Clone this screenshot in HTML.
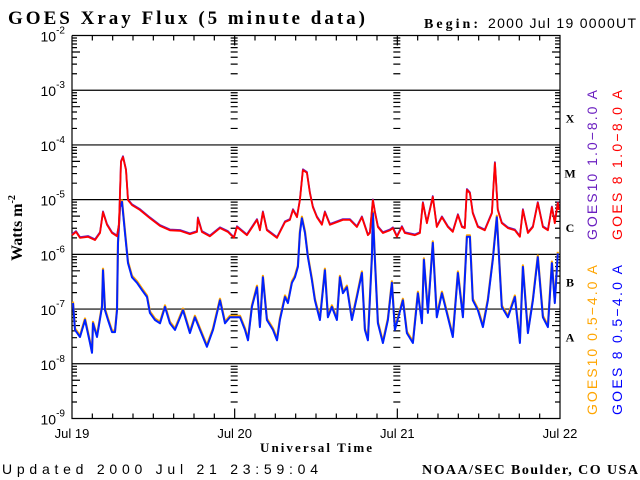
<!DOCTYPE html>
<html><head><meta charset="utf-8"><style>
html,body{margin:0;padding:0;background:#fff;width:640px;height:480px;overflow:hidden}
svg{display:block}
.serif{font-family:"Liberation Serif",serif;font-weight:bold}
.sans{font-family:"Liberation Sans",sans-serif}
</style></head><body>
<svg id="chart" width="640" height="480" viewBox="0 0 640 480" xmlns="http://www.w3.org/2000/svg">
<text class="serif" x="8" y="24" font-size="19" textLength="357" lengthAdjust="spacing">GOES Xray Flux (5 minute data)</text>
<text class="serif" x="424" y="28" font-size="14" textLength="54" lengthAdjust="spacing">Begin:</text>
<text class="sans" x="488" y="28" font-size="14" textLength="148" lengthAdjust="spacing">2000 Jul 19 0000UT</text>
<text class="serif" font-size="16" transform="translate(22,228) rotate(-90)" text-anchor="middle">Watts m<tspan font-size="10" dy="-7">-2</tspan></text>
<text class="serif" x="260" y="452" font-size="13" textLength="112" lengthAdjust="spacing">Universal Time</text>
<text class="sans" x="2" y="474" font-size="14" textLength="316" lengthAdjust="spacing">Updated 2000 Jul 21 23:59:04</text>
<text class="serif" x="422" y="474" font-size="14" textLength="216" lengthAdjust="spacing">NOAA/SEC Boulder, CO USA</text>
<g id="grid"></g>
<g id="series"></g>
<g id="legend" class="sans" font-size="14">
<text fill="#6a1fc0" transform="translate(597,240) rotate(-90)" textLength="150" lengthAdjust="spacing">GOES10 1.0−8.0 A</text>
<text fill="#ff0000" transform="translate(622,240) rotate(-90)" textLength="150" lengthAdjust="spacing">GOES 8 1.0−8.0 A</text>
<text fill="#ffa500" transform="translate(597,415) rotate(-90)" textLength="150" lengthAdjust="spacing">GOES10 0.5−4.0 A</text>
<text fill="#0000ff" transform="translate(622,415) rotate(-90)" textLength="150" lengthAdjust="spacing">GOES 8 0.5−4.0 A</text>
</g>
</svg>
<script>
const dayLabels = ["Jul 19","Jul 20","Jul 21","Jul 22"];
const decadeExps = [-2,-3,-4,-5,-6,-7,-8,-9];
const flareClasses = ["X","M","C","B","A"];
const flareClassExps = [-3.5,-4.5,-5.5,-6.5,-7.5];
const longHours = [0,0.59,1.18,2.36,3.39,4.13,4.57,5.16,5.9,6.64,6.93,7.23,7.52,7.96,8.26,8.85,10.03,11.5,12.98,14.45,15.93,17.4,18.44,18.58,19.17,20.35,21.83,23.0,23.89,24.34,25.81,27.29,27.73,28.17,28.76,30.24,31.42,32.15,32.6,33.19,33.63,34.07,34.66,35.1,35.55,36.14,36.87,37.32,38.05,39.09,39.97,41.0,42.04,42.77,43.66,43.95,44.4,44.69,45.13,45.87,46.9,47.35,47.94,48.67,49.1,50.59,51.33,51.77,52.36,53.24,53.83,54.57,55.46,56.19,56.93,57.52,57.96,58.26,58.7,59.14,59.88,60.91,61.95,62.39,62.83,63.42,64.31,65.34,66.08,66.52,67.26,68.0,68.73,69.47,70.21,70.8,71.24,71.68,71.83];
const longLogFlux = [-5.65,-5.59,-5.70,-5.68,-5.74,-5.61,-5.23,-5.46,-5.61,-5.67,-5.46,-4.31,-4.22,-4.46,-5.01,-5.10,-5.19,-5.34,-5.48,-5.56,-5.57,-5.63,-5.59,-5.34,-5.59,-5.67,-5.52,-5.59,-5.70,-5.5,-5.65,-5.37,-5.56,-5.23,-5.56,-5.70,-5.41,-5.37,-5.19,-5.32,-5.01,-4.46,-4.51,-4.88,-5.14,-5.32,-5.46,-5.23,-5.46,-5.41,-5.37,-5.37,-5.5,-5.32,-5.65,-5.61,-5.01,-5.23,-5.5,-5.61,-5.56,-5.52,-5.68,-5.5,-5.61,-5.65,-5.61,-5.06,-5.43,-4.95,-5.5,-5.32,-5.5,-5.59,-5.28,-5.5,-5.52,-4.82,-4.88,-5.25,-5.5,-5.56,-5.25,-4.33,-5.19,-5.43,-5.52,-5.56,-5.68,-5.19,-5.61,-5.5,-5.06,-5.5,-5.56,-5.14,-5.43,-5.06,-5.19];
const shortHours = [0.15,0.44,1.18,1.92,2.65,2.95,3.1,3.69,4.42,4.57,4.87,5.31,5.9,6.34,6.64,6.78,7.08,7.37,7.82,8.26,8.85,9.59,10.32,11.06,11.5,12.24,12.98,13.72,14.45,15.19,16.37,17.4,18.14,18.88,19.91,20.8,21.83,22.57,23.3,24.78,25.52,25.96,26.55,27.29,27.73,28.17,28.76,29.65,30.24,30.68,31.42,31.86,32.45,32.89,33.33,33.63,33.92,34.37,34.81,35.4,35.84,36.58,37.32,37.76,38.35,39.09,39.53,39.97,40.56,41.3,42.04,42.77,43.22,43.66,44.25,44.4,44.69,45.13,45.87,46.61,47.2,47.64,48.82,49.41,50.29,51.03,51.62,51.92,52.51,53.24,53.83,54.57,55.46,56.19,56.93,57.67,58.26,58.7,59.14,59.88,60.62,61.36,62.09,62.68,63.42,64.31,65.34,66.08,66.52,67.26,68.0,68.73,69.47,70.21,70.8,71.24,71.68];
const shortLogFlux = [-6.89,-7.38,-7.51,-7.2,-7.62,-7.8,-7.26,-7.51,-6.96,-6.29,-7.02,-7.2,-7.42,-7.42,-7.02,-5.79,-5.14,-5.04,-5.61,-6.16,-6.42,-6.52,-6.65,-6.78,-7.07,-7.2,-7.26,-6.96,-7.26,-7.38,-7.02,-7.44,-7.15,-7.38,-7.69,-7.38,-6.84,-7.26,-7.15,-7.15,-7.38,-7.57,-6.96,-6.6,-7.33,-6.42,-7.2,-7.38,-7.57,-7.2,-6.78,-6.89,-6.52,-6.42,-6.23,-5.61,-5.34,-5.61,-6.05,-6.47,-6.84,-7.2,-6.29,-7.15,-6.96,-7.2,-6.42,-6.71,-6.6,-7.2,-6.78,-6.34,-7.38,-7.57,-6.05,-5.25,-6.1,-7.26,-7.62,-7.2,-6.52,-7.38,-6.84,-7.44,-7.62,-6.71,-7.26,-6.1,-7.07,-5.79,-7.15,-6.71,-7.15,-7.51,-6.34,-7.15,-5.68,-5.68,-6.84,-7.02,-7.33,-6.84,-6.1,-5.32,-6.96,-7.15,-6.78,-7.62,-6.23,-7.44,-6.84,-6.05,-7.15,-7.33,-6.16,-6.89,-5.98];

const NS="http://www.w3.org/2000/svg";
const X0=72, X1=560, Y0=35.5, Y1=418.5;
const xScale = h => X0 + (X1-X0)*h/72;
const yScale = e => Y0 + (-2 - e)*(Y1-Y0)/7;
function mk(tag, attrs, parent){const el=document.createElementNS(NS,tag);for(const k in attrs)el.setAttribute(k,attrs[k]);parent.appendChild(el);return el;}
const grid=document.getElementById('grid');
const series=document.getElementById('series');
let d='';
d+=`M${X0} ${Y0}V${Y1}H${X1}V${Y0}H${X0}`;
decadeExps.forEach(e=>{
  const y=yScale(e);
  if(e>-9 && e<-2) d+=`M${X0} ${y}H${X1}`;
  const t=mk('text',{x:X0-7,y:y+6,'font-size':14,'text-anchor':'end',class:'sans'},grid);
  
  
  t.innerHTML=`10<tspan font-size="10" dy="-8">${e}</tspan>`;
});
const dayX=[0,24,48,72].map(xScale);
for(let e=-9;e<-2;e++){
  for(let m=2;m<=9;m++){
    const y=yScale(e+Math.log10(m));
    d+=`M${X0} ${y}h${m==5?8:5}M${X1} ${y}h-${m==5?8:5}`;
    d+=`M${dayX[1]-4} ${y}h7M${dayX[2]-4} ${y}h7`;
  }
}
for(let h=0;h<=72;h+=3){
  const x=xScale(h), L=(h%24==0)?10:5;
  d+=`M${x} ${Y1}v-${L}M${x} ${Y0}v${L}`;
}
const axes=mk('path',{d:d,stroke:'#000','stroke-width':1.2,fill:'none'},grid);


dayLabels.forEach((lab,i)=>{
  const t=mk('text',{x:xScale(i*24),y:438,'font-size':13,'text-anchor':'middle',class:'sans'},grid);
  
  
  t.textContent=lab;
});
flareClasses.forEach((c,i)=>{
  const t=mk('text',{x:570,y:yScale(flareClassExps[i])+5,'font-size':12,'text-anchor':'middle',class:'serif'},grid);
  
  
  t.textContent=c;
});
function pts(hs,vs,dy){return hs.map((h,i)=>`${xScale(h).toFixed(1)},${(yScale(vs[i])+dy).toFixed(1)}`).join(' ');}
const l1=mk('polyline',{points:pts(shortHours,shortLogFlux,-1.5),stroke:'#ffa500','stroke-width':2.2,fill:'none','stroke-linejoin':'round'},series);


const l2=mk('polyline',{points:pts(shortHours,shortLogFlux,0),stroke:'#0022ff','stroke-width':2,fill:'none','stroke-linejoin':'round'},series);


const l3=mk('polyline',{points:pts(longHours,longLogFlux,-0.8),stroke:'#6a1fc0','stroke-width':1.8,fill:'none','stroke-linejoin':'round'},series);


const l4=mk('polyline',{points:pts(longHours,longLogFlux,0),stroke:'#ff0000','stroke-width':1.8,fill:'none','stroke-linejoin':'round'},series);


</script>
</body></html>
